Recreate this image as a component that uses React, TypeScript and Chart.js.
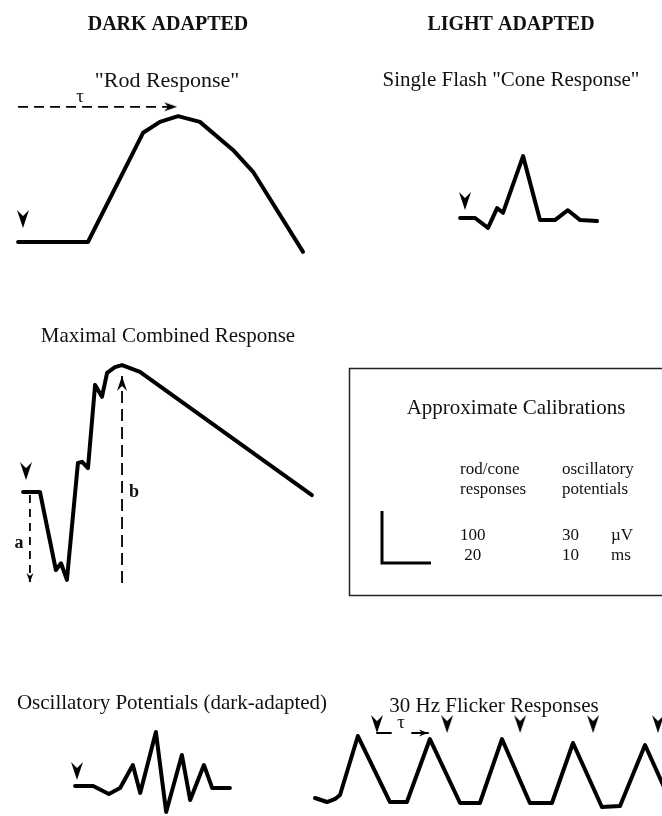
import React, { useEffect, useRef } from "react";
import { Chart, registerables } from "chart.js";
Chart.register(...registerables);

const W = 662;
const H = 816;

// ---- Data (time in ms, amplitude in µV) ----
// Dark adapted "Rod Response"
const ROD_T = [-2, 26.5, 49, 55.9, 63.3, 72.2, 85.7, 93.9, 114.3];
const ROD_V = [0, 0, 210, 231, 242, 231, 177, 135, -19];
// Light adapted single flash "Cone Response"
const CONE_T = [-2, 4.1, 9.4, 13.1, 15.5, 23.7, 30.6, 36.7, 42, 47, 53.9];
const CONE_V = [0, 0, -19, 19, 10, 119, -4, -4, 15, -4, -6];
// Maximal combined response
const MAX_T = [-1.2, 5.7, 12.2, 14.3, 16.7, 21.2, 22.9, 25.3, 28.2, 31, 33.1, 36.3, 39.2, 46.5, 116.7];
const MAX_V = [0, 0, -150, -137, -169, 56, 58, 46, 206, 183, 229, 240, 244, 231, -6];
// Oscillatory potentials (dark adapted)
const OP_T = [-0.4, 3.3, 6.5, 8.8, 11.4, 12.9, 16.1, 18.2, 21.4, 23.1, 25.9, 27.6, 31.2];
const OP_V = [0, 0, -4.6, -1.2, 12.1, -4, 31.2, -15, 17.9, -8.1, 12.1, -1.2, -1.2];
// 30 Hz flicker responses
const FLK_T = [-25.3, -20.4, -17.1, -15.1, -7.8, 5.3, 12.2, 21.6, 33.9, 42, 51, 62.4, 71.4, 80, 91.8, 99.2, 109.4, 120.8];
const FLK_V = [9.6, 1.9, 7.7, 15.4, 128.8, 1.9, 1.9, 123, 0, 0, 123, 0, 0, 115.4, -7.7, -5.8, 111.5, -7.7];
const FLK_FLASH_T = [0, 28.6, 58.4, 88.2, 114.7];
// Calibration bar: 100 µV by 20 ms
const CAL_T = [0, 0, 20];
const CAL_V = [100, 0, 0];

// Measurement markers (implicit time / amplitude)
const ROD_TAU_T = [-2, 62.9];
const ROD_TAU_V = 260;
const A_WAVE_T = 1.6;
const A_WAVE_V = [-6, -173];
const B_WAVE_T = 39.2;
const B_WAVE_V = [-175, 223];
const FLK_TAU_V = 134.6;
const FLK_BRACKET_T = [0, 5.7];
const FLK_TAU_ARROW_T = [14.3, 20.8];

// flash-marker tip heights (µV) per panel
const FLASH_MARK = { rod: 27, cone: 15.4, max: 23, op: 3.5, flk: 134.6 };

// Calibration table
const CAL_HEAD = [["rod/cone", "responses"], ["oscillatory", "potentials"]];
const CAL_ROWS = [["100", "30", "µV"], [" 20", "10", "ms"]];

// ---- Layout: pixel origin of each panel and pixels per unit ----
const PANELS: Record<string, { ox: number; oy: number; kx: number; ky: number }> = {
  rod: { ox: 23, oy: 242, kx: 2.45, ky: 0.52 },
  cone: { ox: 465, oy: 218, kx: 2.45, ky: 0.52 },
  max: { ox: 26, oy: 492, kx: 2.45, ky: 0.52 },
  op: { ox: 77, oy: 786, kx: 4.9, ky: 1.733 },
  flk: { ox: 377, oy: 803, kx: 2.45, ky: 0.52 },
  cal: { ox: 382, oy: 563, kx: 2.45, ky: 0.52 },
};

const SERIF = "'Liberation Serif', 'Times New Roman', serif";
const LABELS = [
  { t: "DARK ADAPTED", x: 168, y: 30, f: `bold 20px ${SERIF}`, a: "center" },
  { t: "LIGHT ADAPTED", x: 511, y: 30, f: `bold 20px ${SERIF}`, a: "center" },
  { t: '"Rod Response"', x: 167, y: 87, f: `22px ${SERIF}`, a: "center" },
  { t: 'Single Flash "Cone Response"', x: 511, y: 86, f: `21px ${SERIF}`, a: "center" },
  { t: "Maximal Combined Response", x: 168, y: 342, f: `21px ${SERIF}`, a: "center" },
  { t: "Approximate Calibrations", x: 516, y: 414, f: `21px ${SERIF}`, a: "center" },
  { t: "Oscillatory Potentials (dark-adapted)", x: 172, y: 709, f: `21px ${SERIF}`, a: "center" },
  { t: "30 Hz Flicker Responses", x: 494, y: 712, f: `21px ${SERIF}`, a: "center" },
  { t: "τ", x: 80, y: 102, f: `19px ${SERIF}`, a: "center" },
  { t: "τ", x: 401, y: 728, f: `19px ${SERIF}`, a: "center" },
  { t: "a", x: 19, y: 548, f: `bold 18px ${SERIF}`, a: "center" },
  { t: "b", x: 134, y: 497, f: `bold 18px ${SERIF}`, a: "center" },
];
const CAL_COL_X = [460, 562, 611];
const CAL_HEAD_Y = [474, 494];
const CAL_ROW_Y = [540, 560];
const CAL_FONT = `17px ${SERIF}`;
const BOX = { x: 349, y: 368, w: 340, h: 227 };

function pts(ts: number[], vs: number[]) {
  return ts.map((t, i) => ({ x: t, y: vs[i] }));
}

function arrowImg(width: number, length: number, notch: number) {
  const s = Math.ceil(length * 2 + 4);
  const c = document.createElement("canvas");
  c.width = s;
  c.height = s;
  const g = c.getContext("2d")!;
  const m = s / 2;
  g.fillStyle = "#000";
  g.beginPath();
  g.moveTo(m, m);
  g.lineTo(m - width / 2, m - length);
  g.lineTo(m, m - length + notch);
  g.lineTo(m + width / 2, m - length);
  g.closePath();
  g.fill();
  return c;
}

export default function App() {
  const ref = useRef<HTMLCanvasElement | null>(null);

  useEffect(() => {
    if (!ref.current) return;
    const flash = arrowImg(12, 18, 6);
    const smallHead = arrowImg(9, 13, 4);
    const tinyHead = arrowImg(7, 9, 3);
    const bHead = arrowImg(10, 15, 5);

    const scales: any = {};
    Object.entries(PANELS).forEach(([k, p]) => {
      scales["x_" + k] = {
        type: "linear", display: false, axis: "x",
        min: -p.ox / p.kx, max: (W - p.ox) / p.kx,
      };
      scales["y_" + k] = {
        type: "linear", display: false, axis: "y",
        min: -(H - p.oy) / p.ky, max: p.oy / p.ky,
      };
    });

    const trace = (k: string, data: any[], extra: any = {}) => ({
      data, xAxisID: "x_" + k, yAxisID: "y_" + k, showLine: true,
      borderColor: "#000", borderWidth: 4, pointRadius: 0,
      borderJoinStyle: "round", borderCapStyle: "round", tension: 0, ...extra,
    });
    const dashed = (k: string, data: any[], dash: number[]) =>
      trace(k, data, { borderWidth: 1.8, borderDash: dash, borderCapStyle: "butt" });
    const marks = (k: string, data: any[], img: HTMLCanvasElement, rot: number) => ({
      data, xAxisID: "x_" + k, yAxisID: "y_" + k, showLine: false,
      pointStyle: img, pointRadius: 6, pointRotation: rot,
    });

    const labelPlugin = {
      id: "labels",
      afterDatasetsDraw(chart: any) {
        const ctx = chart.ctx;
        ctx.save();
        ctx.fillStyle = "#111";
        ctx.textBaseline = "alphabetic";
        LABELS.forEach((l) => {
          ctx.font = l.f;
          ctx.textAlign = l.a;
          ctx.fillText(l.t, l.x, l.y);
        });
        ctx.font = CAL_FONT;
        ctx.textAlign = "left";
        CAL_HEAD.forEach((col, ci) =>
          col.forEach((s, ri) => ctx.fillText(s, CAL_COL_X[ci], CAL_HEAD_Y[ri])));
        CAL_ROWS.forEach((row, ri) =>
          row.forEach((s, ci) => ctx.fillText(s, CAL_COL_X[ci], CAL_ROW_Y[ri])));
        ctx.strokeStyle = "#222";
        ctx.lineWidth = 1.5;
        ctx.strokeRect(BOX.x + 0.5, BOX.y + 0.5, BOX.w, BOX.h);
        ctx.restore();
      },
    };

    const chart = new Chart(ref.current, {
      type: "scatter",
      data: {
        datasets: [
          trace("rod", pts(ROD_T, ROD_V)),
          trace("cone", pts(CONE_T, CONE_V)),
          trace("max", pts(MAX_T, MAX_V)),
          trace("op", pts(OP_T, OP_V)),
          trace("flk", pts(FLK_T, FLK_V)),
          trace("cal", pts(CAL_T, CAL_V), { borderWidth: 3, borderJoinStyle: "miter", borderCapStyle: "butt" }),
          dashed("rod", pts(ROD_TAU_T, [ROD_TAU_V, ROD_TAU_V]), [10, 6]),
          marks("rod", [{ x: ROD_TAU_T[1], y: ROD_TAU_V }], smallHead, -90),
          dashed("max", pts([A_WAVE_T, A_WAVE_T], A_WAVE_V), [8, 6]),
          marks("max", [{ x: A_WAVE_T, y: A_WAVE_V[1] }], tinyHead, 0),
          dashed("max", pts([B_WAVE_T, B_WAVE_T], B_WAVE_V), [12, 6]),
          marks("max", [{ x: B_WAVE_T, y: B_WAVE_V[1] }], bHead, 180),
          trace("flk", pts(FLK_BRACKET_T, [FLK_TAU_V, FLK_TAU_V]), { borderWidth: 2 }),
          trace("flk", pts(FLK_TAU_ARROW_T, [FLK_TAU_V, FLK_TAU_V]), { borderWidth: 2 }),
          marks("flk", [{ x: FLK_TAU_ARROW_T[1], y: FLK_TAU_V }], tinyHead, -90),
          marks("rod", [{ x: 0, y: FLASH_MARK.rod }], flash, 0),
          marks("cone", [{ x: 0, y: FLASH_MARK.cone }], flash, 0),
          marks("max", [{ x: 0, y: FLASH_MARK.max }], flash, 0),
          marks("op", [{ x: 0, y: FLASH_MARK.op }], flash, 0),
          marks("flk", FLK_FLASH_T.map((t) => ({ x: t, y: FLASH_MARK.flk })), flash, 0),
        ] as any,
      },
      options: {
        animation: false,
        responsive: false,
        maintainAspectRatio: false,
        devicePixelRatio: 1,
        layout: { padding: 0, autoPadding: false },
        scales,
        plugins: { legend: { display: false }, tooltip: { enabled: false }, title: { display: false } },
        events: [],
      } as any,
      plugins: [labelPlugin],
    });
    return () => chart.destroy();
  }, []);

  return (
    <div style={{ position: "absolute", left: 0, top: 0, width: W, height: H, background: "#fff" }}>
      <canvas ref={ref} width={W} height={H} style={{ display: "block", width: W, height: H }} />
    </div>
  );
}
